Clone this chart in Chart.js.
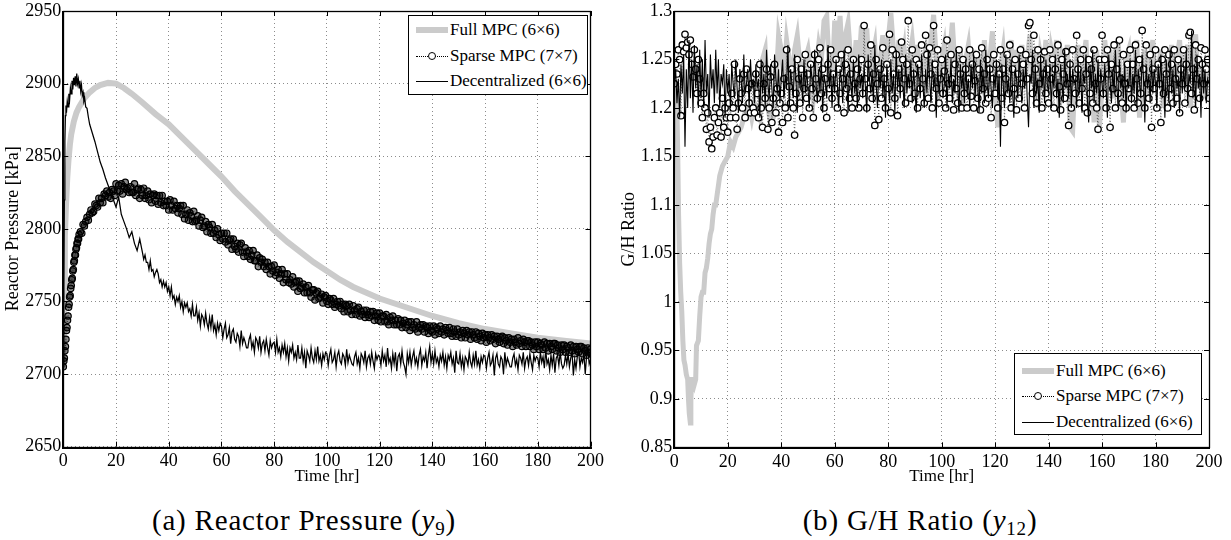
<!DOCTYPE html>
<html lang="en">
<head>
<meta charset="UTF-8">
<title>Reactor Pressure and G/H Ratio</title>
<script src="https://cdn.jsdelivr.net/npm/chart.js"></script>
<style>
  body { margin: 0; background: #fff; width: 1231px; height: 540px; position: relative; overflow: hidden;
         font-family: 'Liberation Serif', 'Times New Roman', serif; color: #000; }
  canvas { position: absolute; top: 0; }
  #chartA { left: 0; }
  #chartB { left: 610px; }
  .legend { position: absolute; background: #fff; border: 1px solid #000; font-size: 17px; box-sizing: border-box; }
  .legend .row { position: absolute; left: 0; height: 20px; line-height: 20px; white-space: nowrap; }
  .legend .sample { position: absolute; left: 7px; top: 0; width: 32px; height: 20px; }
  .legend .txt { position: absolute; left: 41px; top: 0; }
  .s-full::after { content: ''; position: absolute; left: 0; right: 0; top: 7px; height: 6px; background: #cbcbcb; }
  .s-sparse::before { content: ''; position: absolute; left: 0; right: 0; top: 10px; border-top: 1px dotted #000; }
  .s-sparse::after { content: ''; position: absolute; left: 12px; top: 6px; width: 6px; height: 6px; border: 1px solid #000; border-radius: 50%; background: #fff; }
  .s-dec::after { content: ''; position: absolute; left: 0; right: 0; top: 10px; border-top: 1px solid #000; }
  .caption { position: absolute; top: 503px; width: 400px; height: 34px; line-height: 34px; text-align: center;
             font-size: 29px; letter-spacing: 0.8px; }
  .caption sub { font-size: 19px; vertical-align: -5px; line-height: 0; }
</style>
</head>
<body>
<canvas id="chartA" width="610" height="490"></canvas>
<canvas id="chartB" width="621" height="490"></canvas>

<div class="legend" style="left:408px; top:15px; width:180px; height:80px;">
  <div class="row" style="top:4px;"><span class="sample s-full"></span><span class="txt">Full MPC (6×6)</span></div>
  <div class="row" style="top:30px;"><span class="sample s-sparse"></span><span class="txt">Sparse MPC (7×7)</span></div>
  <div class="row" style="top:55px;"><span class="sample s-dec"></span><span class="txt">Decentralized (6×6)</span></div>
</div>
<div class="legend" style="left:1014px; top:353px; width:188px; height:82px;">
  <div class="row" style="top:7px;"><span class="sample s-full"></span><span class="txt">Full MPC (6×6)</span></div>
  <div class="row" style="top:32px;"><span class="sample s-sparse"></span><span class="txt">Sparse MPC (7×7)</span></div>
  <div class="row" style="top:58px;"><span class="sample s-dec"></span><span class="txt">Decentralized (6×6)</span></div>
</div>

<div class="caption" style="left:104px;">(a) Reactor Pressure (<i>y</i><sub>9</sub>)</div>
<div class="caption" style="left:720px;">(b) G/H Ratio (<i>y</i><sub>12</sub>)</div>

<script>
// ---- axis ticks ----
const timeTicks = [0, 20, 40, 60, 80, 100, 120, 140, 160, 180, 200];
const pressTicks = [2650, 2700, 2750, 2800, 2850, 2900, 2950];
const ratioTicks = [0.85, 0.9, 0.95, 1, 1.05, 1.1, 1.15, 1.2, 1.25, 1.3];

// ---- (a) reactor pressure [kPa] ----
// full MPC, smooth curve
const fullA_t = [0,0.3,0.6,1,1.5,2,2.5,3,4,5,6,8,10,12,14,17,20,23,26,30,35,40,45,50,55,60,65,70,75,80,85,90,95,100,105,110,120,130,140,150,160,170,180,190,200];
const fullA_v = [2705,2760,2795,2815,2835,2848,2858,2865,2874,2880,2884,2890,2894,2897,2899,2900.5,2900,2897,2893,2887,2879,2872,2863,2854,2845,2836,2826,2817,2808,2799,2791,2784,2777,2771,2765,2760,2752,2746,2740,2735,2731,2728,2725,2723,2721];

// sparse MPC: start-up samples, then every half hour from t = 6.5
const sparseA_early_t = [0,0.2,0.4,0.6,0.8,1,1.2,1.4,1.6,1.8,2,2.2,2.4,2.6,2.8,3,3.2,3.4,3.6,3.8,4,4.2,4.4,4.6,4.8,5,5.2,5.4,5.6,5.8,6];
const sparseA_early_v = [2705,2709,2711,2716,2719,2724,2730,2732,2737,2740,2746,2748,2753,2754,2759,2761,2765,2766,2771,2772,2777,2778,2782,2782,2786,2787,2790,2790,2793,2793,2796];
const sparseA_start = 6.5;
const sparseA_half = [
  2798,2797,2803,2802,2805,2808,2806,2810,2813,2811,2812,2817,2816,2815,2821,2818,2821,2818,2824,2823,
  2826,2822,2825,2821,2827,2826,2823,2831,2826,2830,2826,2831,2824,2829,2832,2827,2828,2825,2829,2825,
  2825,2831,2823,2827,2828,2821,2827,2823,2828,2821,2823,2826,2820,2824,2818,2823,2824,2819,2823,2817,
  2823,2818,2823,2816,2819,2816,2819,2813,2820,2816,2813,2819,2814,2816,2811,2814,2816,2810,2816,2807,
  2810,2813,2806,2811,2809,2805,2812,2805,2806,2809,2802,2806,2808,2801,2802,2805,2798,2803,2801,2797,
  2803,2797,2799,2794,2800,2796,2792,2797,2793,2797,2791,2797,2789,2792,2793,2786,2793,2788,2786,2790,
  2784,2789,2790,2784,2781,2787,2784,2781,2785,2779,2782,2785,2778,2778,2782,2774,2780,2777,2779,2774,
  2777,2772,2777,2774,2769,2774,2771,2775,2768,2770,2772,2766,2769,2772,2763,2769,2765,2769,2763,2765,
  2762,2767,2760,2763,2764,2757,2764,2759,2760,2762,2756,2760,2756,2761,2756,2753,2758,2758,2751,2756,
  2757,2752,2753,2755,2749,2753,2754,2750,2748,2752,2751,2748,2752,2746,2748,2750,2747,2750,2745,2748,
  2743,2748,2747,2743,2748,2744,2741,2747,2744,2741,2745,2746,2740,2743,2741,2744,2739,2744,2741,2739,
  2743,2740,2743,2737,2740,2742,2737,2742,2736,2740,2740,2736,2741,2736,2734,2739,2737,2740,2734,2737,
  2734,2738,2734,2737,2732,2735,2737,2732,2734,2736,2730,2736,2732,2734,2731,2736,2729,2732,2734,2731,
  2734,2729,2733,2732,2728,2733,2730,2729,2733,2727,2732,2731,2728,2733,2729,2731,2727,2732,2730,2728,
  2732,2728,2726,2731,2729,2726,2731,2727,2729,2725,2730,2728,2725,2730,2727,2729,2724,2729,2727,2725,
  2729,2724,2728,2726,2723,2728,2725,2727,2722,2727,2725,2723,2727,2724,2726,2721,2726,2724,2722,2725,
  2726,2721,2725,2723,2720,2725,2722,2724,2719,2724,2722,2720,2725,2721,2723,2719,2724,2722,2719,2723,
  2723,2719,2722,2720,2717,2722,2719,2722,2717,2721,2720,2717,2722,2718,2721,2716,2721,2719,2717,2721,
  2721,2716,2720,2718,2715,2720,2717,2720,2715,2719,2718,2715,2720,2716,2719,2714,2719,2717,2715,2719,
  2719,2714,2718,2716,2713,2718,2715,2717
];

// decentralized: overshoot, jagged decay (hourly 10..29), then half-hourly noise 30..200
const decA_early_t = [0,0.2,0.4,0.6,0.8,1,1.2,1.5,1.8,2.1,2.4,2.7,3,3.3,3.6,3.9,4.2,4.5,4.8,5.1,5.4,5.7,6,6.3,6.6,6.9,7.2,7.5,7.8,8.1,8.5,9,9.5];
const decA_early_v = [2705,2760,2820,2860,2878,2885,2880,2888,2884,2893,2889,2897,2893,2902,2896,2904,2899,2905,2898,2907,2900,2903,2897,2902,2895,2899,2892,2894,2888,2890,2884,2883,2877];
const decA_mid_start = 10;
const decA_mid = [2872,2866,2860,2853,2846,2841,2835,2830,2825,2820,2815,2822,2810,2805,2800,2794,2798,2790,2785,2793];
const decA_late_start = 30;
const decA_late = [
  2784,2779,2782,2777,2777,2772,2778,2771,2772,2767,2770,2772,2769,2763,2765,2760,2764,2760,2763,2757,
  2760,2754,2760,2752,2754,2748,2753,2750,2754,2746,2750,2743,2749,2746,2749,2743,2745,2740,2748,2740,
  2740,2746,2737,2742,2733,2741,2739,2734,2742,2735,2731,2739,2732,2741,2730,2734,2727,2735,2730,2735,
  2733,2725,2731,2735,2725,2727,2732,2721,2729,2731,2724,2722,2728,2726,2719,2730,2721,2725,2722,2718,
  2718,2724,2727,2718,2722,2715,2725,2723,2718,2726,2715,2721,2723,2716,2724,2718,2713,2723,2718,2721,
  2722,2715,2724,2715,2718,2712,2720,2715,2721,2712,2718,2709,2718,2715,2720,2711,2715,2710,2720,2711,
  2711,2718,2709,2715,2704,2716,2713,2709,2718,2711,2708,2716,2710,2719,2709,2713,2706,2714,2710,2715,
  2714,2706,2713,2717,2708,2710,2715,2705,2713,2716,2709,2707,2714,2712,2706,2717,2708,2713,2710,2707,
  2706,2712,2715,2707,2711,2704,2714,2712,2708,2716,2705,2711,2713,2707,2715,2709,2704,2714,2710,2713,
  2712,2706,2716,2709,2713,2705,2718,2708,2711,2704,2714,2707,2715,2702,2712,2714,2707,2716,2708,2705,
  2700,2714,2708,2715,2706,2712,2716,2707,2711,2705,2713,2717,2706,2712,2709,2715,2704,2713,2719,2708,
  2714,2707,2716,2708,2711,2705,2713,2709,2715,2706,2712,2704,2713,2710,2715,2707,2711,2701,2716,2708,
  2707,2714,2705,2711,2703,2712,2710,2706,2715,2708,2705,2713,2707,2716,2706,2710,2704,2712,2708,2713,
  2712,2704,2711,2715,2706,2708,2713,2699,2711,2714,2707,2705,2712,2710,2700,2715,2706,2711,2708,2705,
  2705,2711,2714,2706,2710,2703,2713,2711,2707,2715,2704,2710,2712,2706,2714,2708,2703,2713,2709,2712,
  2711,2705,2715,2708,2712,2704,2717,2707,2710,2703,2713,2706,2714,2701,2711,2713,2706,2715,2707,2704,
  2706,2713,2707,2714,2705,2711,2715,2699,2710,2704,2712,2716,2705,2711,2708,2714,2700,2712,2717,2707,
  2710
];

// ---- (b) G/H ratio ----
const fullB_early_t = [0,0.5,1,1.3,1.6,2,2.4,2.8,3.2,3.6,4,4.5,5,5.3,5.6,6,6.2,6.5,7,7.5,8,8.3,9,9.5,10,10.5,11,11.5,12,12.5,13,13.5,14,14.5,15,15.5,16,16.5,17,18,19,20,21,22,23,24,25,26,27,28,29,30];
const fullB_early_v = [1.225,1.22,1.2,1.15,1.09,1.04,1.01,0.99,0.96,0.94,0.935,0.925,0.92,0.9,0.885,0.875,0.9,0.92,0.92,0.915,0.92,0.955,0.96,0.985,1.005,1.01,1.01,1.03,1.035,1.045,1.06,1.07,1.075,1.09,1.1,1.1,1.11,1.12,1.13,1.14,1.145,1.15,1.165,1.16,1.17,1.175,1.18,1.19,1.2,1.205,1.19,1.205];
const fullB_start = 31;
const fullB_hourly = [
  1.2,1.19,1.25,1.26,1.2,1.185,1.19,1.22,1.275,1.26,
  1.23,1.27,1.25,1.22,1.26,1.275,1.245,1.23,1.25,1.26,
  1.235,1.21,1.24,1.265,1.25,1.29,1.295,1.24,1.22,1.29,
  1.25,1.295,1.24,1.275,1.288,1.25,1.23,1.27,1.24,1.285,
  1.26,1.282,1.23,1.25,1.265,1.22,1.25,1.275,1.24,1.27,
  1.298,1.26,1.23,1.27,1.24,1.26,1.22,1.25,1.27,1.24,
  1.265,1.22,1.25,1.26,1.23,1.27,1.296,1.25,1.21,1.25,
  1.265,1.23,1.255,1.288,1.24,1.22,1.26,1.2,1.25,1.265,
  1.23,1.26,1.21,1.255,1.235,1.27,1.22,1.25,1.279,1.23,
  1.18,1.24,1.26,1.22,1.25,1.27,1.21,1.26,1.24,1.265,
  1.22,1.25,1.275,1.23,1.26,1.2,1.255,1.24,1.27,1.22,
  1.26,1.245,1.27,1.2,1.25,1.235,1.265,1.18,1.176,1.24,
  1.265,1.22,1.25,1.27,1.2,1.24,1.185,1.26,1.18,1.22,
  1.27,1.24,1.26,1.21,1.25,1.27,1.22,1.185,1.25,1.26,
  1.21,1.245,1.27,1.19,1.23,1.26,1.21,1.25,1.27,1.22,
  1.24,1.26,1.2,1.25,1.23,1.265,1.21,1.25,1.27,1.22,
  1.245,1.265,1.2,1.25,1.276,1.22,1.25,1.21,1.24,1.23
];

// sparse MPC and decentralized, sampled every half hour from t = 0
const halfStep = 0.5;
const sparseB_half = [
  1.225,1.245,1.235,1.26,1.25,1.192,1.265,1.258,1.276,1.262,1.268,1.255,1.27,1.245,1.232,1.26,1.24,1.215,1.25,1.23,
  1.205,1.19,1.215,1.2,1.178,1.195,1.165,1.18,1.158,1.17,1.19,1.2,1.172,1.185,1.195,1.17,1.21,1.18,1.2,1.19,
  1.175,1.205,1.19,1.215,1.2,1.245,1.19,1.178,1.205,1.23,1.215,1.2,1.235,1.19,1.24,1.22,1.205,1.195,1.225,1.2,
  1.195,1.235,1.215,1.19,1.245,1.2,1.18,1.225,1.21,1.24,1.178,1.2,1.232,1.185,1.21,1.245,1.195,1.22,1.175,1.205,
  1.215,1.185,1.23,1.2,1.26,1.19,1.222,1.205,1.24,1.2,1.172,1.215,1.25,1.23,1.205,1.24,1.19,1.22,1.255,1.21,
  1.235,1.2,1.245,1.22,1.19,1.255,1.23,1.21,1.25,1.262,1.215,1.24,1.2,1.23,1.19,1.245,1.22,1.26,1.21,1.235,
  1.22,1.25,1.2,1.24,1.215,1.255,1.23,1.195,1.245,1.22,1.26,1.21,1.235,1.2,1.25,1.225,1.21,1.24,1.2,1.23,
  1.25,1.215,1.285,1.23,1.2,1.245,1.22,1.265,1.21,1.235,1.182,1.25,1.225,1.188,1.24,1.21,1.262,1.23,1.2,1.245,
  1.22,1.276,1.195,1.26,1.235,1.21,1.255,1.192,1.24,1.22,1.268,1.25,1.23,1.205,1.245,1.29,1.225,1.21,1.26,1.235,
  1.215,1.25,1.2,1.245,1.22,1.265,1.23,1.205,1.275,1.255,1.21,1.262,1.235,1.2,1.285,1.245,1.22,1.26,1.205,1.23,
  1.25,1.215,1.238,1.2,1.27,1.225,1.21,1.255,1.23,1.198,1.245,1.22,1.205,1.26,1.235,1.2,1.25,1.215,1.24,1.2,
  1.23,1.26,1.212,1.245,1.2,1.228,1.255,1.21,1.24,1.198,1.262,1.22,1.235,1.205,1.25,1.21,1.24,1.19,1.23,1.255,
  1.215,1.245,1.2,1.235,1.26,1.21,1.24,1.185,1.23,1.255,1.215,1.265,1.2,1.24,1.22,1.25,1.198,1.235,1.21,1.26,
  1.225,1.245,1.2,1.255,1.23,1.285,1.288,1.25,1.215,1.275,1.24,1.205,1.26,1.225,1.25,1.2,1.235,1.258,1.215,1.24,
  1.205,1.26,1.23,1.25,1.2,1.24,1.215,1.265,1.222,1.198,1.25,1.235,1.21,1.258,1.225,1.182,1.245,1.2,1.26,1.23,
  1.215,1.275,1.24,1.205,1.25,1.22,1.26,1.2,1.235,1.195,1.25,1.215,1.24,1.205,1.26,1.225,1.2,1.178,1.25,1.23,
  1.275,1.215,1.25,1.2,1.26,1.235,1.18,1.245,1.22,1.265,1.2,1.24,1.215,1.27,1.23,1.205,1.255,1.225,1.2,1.245,
  1.22,1.26,1.21,1.245,1.2,1.265,1.23,1.205,1.25,1.215,1.28,1.24,1.2,1.265,1.225,1.21,1.255,1.18,1.24,1.22,
  1.26,1.2,1.245,1.225,1.185,1.25,1.215,1.26,1.235,1.2,1.255,1.22,1.245,1.205,1.26,1.23,1.21,1.25,1.195,1.24,
  1.225,1.26,1.205,1.245,1.22,1.275,1.278,1.215,1.24,1.198,1.265,1.23,1.25,1.21,1.262,1.245,1.225,1.26,1.24,1.25,
  1.21
];
const decB_half = [
  1.225,1.24,1.205,1.23,1.19,1.245,1.215,1.255,1.16,1.24,1.2,1.27,1.21,1.25,1.195,1.265,1.22,1.245,1.2,1.26,
  1.21,1.25,1.2,1.27,1.215,1.235,1.19,1.255,1.22,1.24,1.205,1.26,1.215,1.25,1.2,1.235,1.225,1.245,1.19,1.24,
  1.215,1.235,1.2,1.245,1.225,1.21,1.25,1.22,1.195,1.24,1.23,1.205,1.255,1.215,1.225,1.24,1.2,1.25,1.22,1.23,
  1.205,1.245,1.22,1.23,1.19,1.25,1.215,1.235,1.2,1.26,1.225,1.21,1.245,1.22,1.2,1.255,1.23,1.215,1.24,1.205,
  1.23,1.25,1.21,1.235,1.22,1.265,1.2,1.24,1.225,1.21,1.255,1.23,1.195,1.245,1.22,1.235,1.205,1.25,1.215,1.24,
  1.22,1.2,1.245,1.23,1.215,1.26,1.225,1.205,1.24,1.215,1.25,1.195,1.235,1.225,1.21,1.265,1.22,1.24,1.2,1.235,
  1.215,1.25,1.225,1.2,1.24,1.23,1.205,1.26,1.22,1.235,1.195,1.245,1.225,1.21,1.25,1.215,1.23,1.2,1.255,1.22,
  1.235,1.21,1.245,1.22,1.195,1.255,1.23,1.215,1.24,1.205,1.265,1.225,1.2,1.24,1.22,1.25,1.21,1.235,1.19,1.245,
  1.225,1.205,1.25,1.215,1.235,1.195,1.26,1.22,1.24,1.21,1.245,1.225,1.2,1.255,1.215,1.235,1.22,1.25,1.205,1.24,
  1.22,1.195,1.245,1.23,1.21,1.255,1.225,1.2,1.24,1.215,1.26,1.23,1.205,1.25,1.22,1.235,1.19,1.245,1.215,1.23,
  1.24,1.21,1.225,1.255,1.2,1.235,1.22,1.25,1.205,1.23,1.215,1.26,1.225,1.195,1.245,1.22,1.235,1.205,1.25,1.215,
  1.23,1.2,1.245,1.22,1.255,1.21,1.235,1.225,1.195,1.25,1.215,1.24,1.205,1.26,1.225,1.21,1.245,1.22,1.2,1.235,
  1.22,1.25,1.21,1.235,1.16,1.245,1.225,1.2,1.255,1.215,1.23,1.205,1.25,1.22,1.19,1.24,1.23,1.21,1.255,1.225,
  1.205,1.24,1.22,1.25,1.21,1.18,1.235,1.225,1.26,1.2,1.245,1.215,1.23,1.195,1.255,1.22,1.24,1.205,1.25,1.225,
  1.215,1.245,1.2,1.235,1.22,1.255,1.21,1.23,1.19,1.245,1.225,1.205,1.26,1.22,1.235,1.21,1.25,1.2,1.24,1.225,
  1.23,1.2,1.25,1.215,1.24,1.195,1.235,1.225,1.255,1.21,1.185,1.245,1.22,1.26,1.205,1.235,1.215,1.25,1.2,1.24,
  1.225,1.21,1.245,1.22,1.19,1.255,1.23,1.205,1.24,1.215,1.26,1.225,1.2,1.25,1.22,1.235,1.21,1.245,1.195,1.23,
  1.22,1.25,1.205,1.235,1.215,1.26,1.2,1.24,1.225,1.21,1.255,1.23,1.185,1.245,1.22,1.235,1.205,1.25,1.215,1.24,
  1.225,1.2,1.245,1.22,1.255,1.21,1.235,1.19,1.25,1.225,1.205,1.26,1.215,1.24,1.2,1.245,1.22,1.23,1.195,1.25,
  1.215,1.24,1.22,1.26,1.205,1.235,1.225,1.28,1.21,1.245,1.2,1.255,1.22,1.235,1.19,1.25,1.215,1.24,1.205,1.23,
  1.225
];

// ---- helpers to pair times with values ----
const pairs = (ts, vs) => vs.map((v, i) => ({ x: ts[i], y: v }));
const stepped = (start, step, vs) => vs.map((v, i) => ({ x: start + i * step, y: v }));

const serif = 'Liberation Serif';

// inward tick marks and the closed axes box, MATLAB style
const framePlugin = {
  id: 'frame',
  afterDraw(chart) {
    const { ctx, chartArea: a, scales: { x, y } } = chart;
    const len = 5;
    ctx.save();
    ctx.setLineDash([]);
    ctx.strokeStyle = '#000';
    ctx.lineWidth = 1;
    ctx.beginPath();
    x.ticks.forEach(t => {
      const px = Math.round(x.getPixelForValue(t.value)) + 0.5;
      ctx.moveTo(px, a.bottom); ctx.lineTo(px, a.bottom - len);
      ctx.moveTo(px, a.top); ctx.lineTo(px, a.top + len);
    });
    y.ticks.forEach(t => {
      const py = Math.round(y.getPixelForValue(t.value)) + 0.5;
      ctx.moveTo(a.left, py); ctx.lineTo(a.left + len, py);
      ctx.moveTo(a.right, py); ctx.lineTo(a.right - len, py);
    });
    ctx.stroke();
    ctx.lineWidth = 1.3;
    ctx.strokeRect(Math.round(a.left) + 0.5, Math.round(a.top) + 0.5, Math.round(a.width), Math.round(a.height));
    ctx.lineWidth = 2;
    ctx.beginPath();
    ctx.moveTo(Math.round(a.left), Math.round(a.top));
    ctx.lineTo(Math.round(a.left), Math.round(a.bottom) + 1);
    ctx.lineTo(Math.round(a.right) + 1, Math.round(a.bottom) + 1);
    ctx.stroke();
    ctx.restore();
  }
};

function makeOptions(yMin, yMax, yTicks, yTitle, yWidth, yTitlePad, padRight, xHeight) {
  return {
    responsive: false,
    animation: false,
    devicePixelRatio: 1,
    events: [],
    layout: { padding: { top: 9, right: padRight, left: 0, bottom: 0 } },
    plugins: { legend: { display: false }, tooltip: { enabled: false } },
    scales: {
      x: {
        type: 'linear', min: 0, max: 200,
        afterBuildTicks: s => { s.ticks = timeTicks.map(v => ({ value: v })); },
        afterFit: s => { s.height = xHeight; },
        grid: { color: '#8c8c8c', lineWidth: 1, drawTicks: false },
        border: { display: false, dash: [1, 3] },
        ticks: { color: '#000', padding: 6, maxRotation: 0, autoSkip: false,
                 font: { family: serif, size: 18, lineHeight: 1 }, callback: v => String(v) },
        title: { display: true, text: 'Time [hr]', color: '#000',
                 font: { family: serif, size: 17 }, padding: { top: 0, bottom: 3 } }
      },
      y: {
        type: 'linear', min: yMin, max: yMax,
        afterBuildTicks: s => { s.ticks = yTicks.map(v => ({ value: v })); },
        afterFit: s => { s.width = yWidth; },
        grid: { color: '#8c8c8c', lineWidth: 1, drawTicks: false },
        border: { display: false, dash: [1, 3] },
        ticks: { color: '#000', padding: 2, autoSkip: false,
                 font: { family: serif, size: 18, lineHeight: 1 }, callback: v => String(v) },
        title: { display: true, text: yTitle, color: '#000',
                 font: { family: serif, size: 18 }, padding: { top: yTitlePad, bottom: 0 } }
      }
    }
  };
}

// markerFill: the dense band in (a) reads almost solid, the scattered markers in (b) are hollow-white
function makeDatasets(full, sparse, dec, fullWidth, markerFill, markerWidth, decWidth) {
  return [
    { label: 'Full MPC (6×6)', data: full, showLine: true, borderColor: '#cbcbcb', borderWidth: fullWidth,
      pointRadius: 0, borderJoinStyle: 'miter', order: 3 },
    { label: 'Sparse MPC (7×7)', data: sparse, showLine: true, borderColor: '#222', borderWidth: 0.7,
      borderDash: [1, 2], pointRadius: 3.2, pointBorderWidth: markerWidth,
      pointBorderColor: '#000', pointBackgroundColor: markerFill, order: 2 },
    { label: 'Decentralized (6×6)', data: dec, showLine: true, borderColor: '#000', borderWidth: decWidth,
      pointRadius: 0, order: 1 }
  ];
}

new Chart(document.getElementById('chartA'), {
  type: 'scatter',
  data: {
    datasets: makeDatasets(
      pairs(fullA_t, fullA_v),
      pairs(sparseA_early_t, sparseA_early_v).concat(stepped(sparseA_start, halfStep, sparseA_half)),
      pairs(decA_early_t, decA_early_v)
        .concat(stepped(decA_mid_start, 1, decA_mid))
        .concat(stepped(decA_late_start, halfStep, decA_late)),
      6, 'rgba(0,0,0,0.45)', 1.2, 1.25)
  },
  options: makeOptions(2650, 2950, pressTicks, 'Reactor Pressure [kPa]', 63.3, 2.6, 16.7, 43.3),
  plugins: [framePlugin]
});

new Chart(document.getElementById('chartB'), {
  type: 'scatter',
  data: {
    datasets: makeDatasets(
      pairs(fullB_early_t, fullB_early_v).concat(stepped(fullB_start, 1, fullB_hourly)),
      stepped(0, halfStep, sparseB_half),
      stepped(0, halfStep, decB_half),
      5, '#fff', 1.3, 1.1)
  },
  options: makeOptions(0.85, 1.3, ratioTicks, 'G/H Ratio', 64.3, 8.8, 22, 42.7),
  plugins: [framePlugin]
});
</script>
</body>
</html>
